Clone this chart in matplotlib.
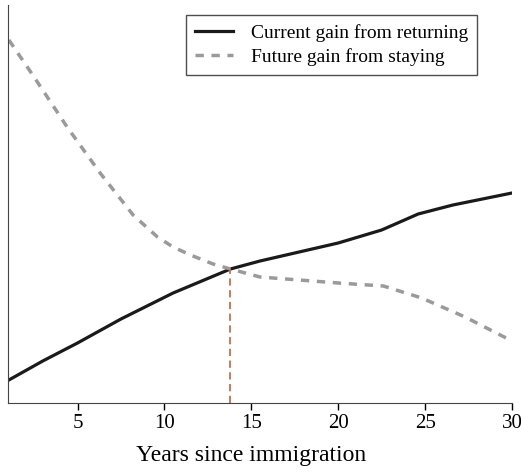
import matplotlib.pyplot as plt

plt.rcParams["font.family"] = ["Liberation Serif", "DejaVu Serif"]

# years since immigration and curve levels (arbitrary units, no y scale shown)
current_x = [1.05, 3, 5, 7.5, 10.5, 13.8, 15.5, 20, 22.5, 24.6, 26.6, 30]
current_y = [23, 42, 60, 84, 110, 134, 142, 160, 173, 189, 198, 210]

future_x = [1.05, 2.5, 4.4, 6.3, 8.2, 9.6, 10.5, 11.5, 12.8, 13.8, 15.5, 20, 22.6, 24.8, 27.3, 30]
future_y = [363, 326, 276, 230, 188, 166, 156, 148, 139, 134, 126, 120, 117, 105, 86, 62]

crossing_x = 13.8
crossing_y = 134

fig = plt.figure(figsize=(5.21, 4.73), dpi=100)
ax = fig.add_axes([8 / 521, 70 / 473, 504 / 521, 398 / 473])

ax.plot(current_x, current_y, color="#1a1a1a", lw=2.3, label="Current gain from returning")
ax.plot(future_x, future_y, color="#9a9a9a", lw=2.5, ls=(0, (2.4, 2.2)),
        label="Future gain from staying")
ax.plot([crossing_x, crossing_x], [0, crossing_y], color="#c0704f", lw=1.3,
        ls=(0, (4, 2.5)))

ax.set_xlim(1, 30)
ax.set_ylim(0, 398)
ax.set_xticks([5, 10, 15, 20, 25, 30])
ax.set_yticks([])
ax.tick_params(axis="x", direction="out", length=5, width=1, labelsize=15, pad=3)
ax.spines["top"].set_visible(False)
ax.spines["right"].set_visible(False)
ax.spines["left"].set_color("#444444")
ax.spines["bottom"].set_color("#444444")
ax.set_xlabel("Years since immigration", fontsize=17, labelpad=11)
ax.xaxis.set_label_coords(0.482, -0.105)

leg = ax.legend(loc="upper right", bbox_to_anchor=(469 / 504, 0.975), fontsize=14,
                frameon=True, fancybox=False, edgecolor="#222222", handlelength=2.0,
                borderpad=0.45, labelspacing=0.35, handletextpad=0.9, borderaxespad=0)
leg.get_frame().set_linewidth(1.0)

fig.savefig("out.png", dpi=100)
